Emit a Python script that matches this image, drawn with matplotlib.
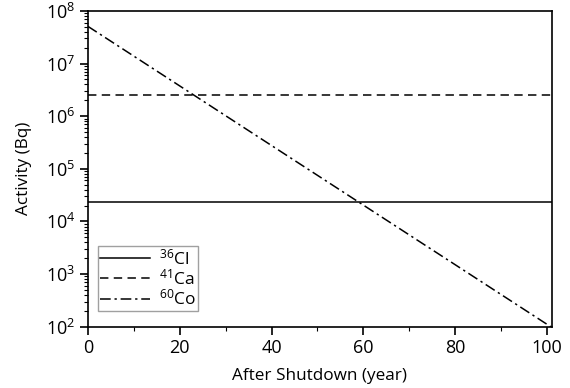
import matplotlib
matplotlib.use("Agg")
import matplotlib.pyplot as plt
from matplotlib.ticker import LogLocator, MultipleLocator, NullFormatter

# data
years = [0, 101]
cl36 = [2.37e4, 2.37e4]
ca41 = [2.5e6, 2.5e6]
co60 = [5.1e7, 0.97e2]

plt.rcParams.update(
    {
        "font.family": ["Open Sans", "DejaVu Sans"],
        "mathtext.fontset": "custom",
        "mathtext.rm": "Open Sans",
        "mathtext.it": "Open Sans:italic",
        "mathtext.bf": "Open Sans:bold",
    }
)

fig = plt.figure(figsize=(5.7, 3.88), dpi=100)
ax = fig.add_axes([0.154, 0.158, 0.814, 0.814])

ax.plot(years, cl36, color="black", lw=1.1, ls="-", label=r"$^{36}$Cl")
ax.plot(years, ca41, color="black", lw=1.1, ls=(0, (5.5, 3.5)), label=r"$^{41}$Ca")
ax.plot(years, co60, color="black", lw=1.1, ls=(0, (7, 2.5, 1.5, 2.5)), label=r"$^{60}$Co")

ax.set_yscale("log")
ax.set_xlim(0, 101)
ax.set_ylim(1e2, 1e8)
ax.xaxis.set_major_locator(MultipleLocator(20))
ax.xaxis.set_minor_locator(MultipleLocator(10))
ax.xaxis.set_minor_formatter(NullFormatter())
ax.yaxis.set_major_locator(LogLocator(base=10, numticks=10))
ax.yaxis.set_minor_locator(LogLocator(base=10, subs=range(2, 10), numticks=20))
ax.yaxis.set_minor_formatter(NullFormatter())

ax.tick_params(which="major", direction="out", length=6, width=1.2, labelsize=13, pad=3)
ax.tick_params(which="minor", direction="out", length=3, width=0.8)
for sp in ax.spines.values():
    sp.set_linewidth(1.2)

ax.set_xlabel("After Shutdown (year)", fontsize=12.3, labelpad=8)
ax.set_ylabel("Activity (Bq)", fontsize=12.3, labelpad=10)

leg = ax.legend(
    loc="lower left",
    bbox_to_anchor=(0.022, 0.05),
    fontsize=12.5,
    frameon=True,
    fancybox=False,
    edgecolor="#888888",
    handlelength=2.9,
    handletextpad=0.5,
    labelspacing=0.02,
    borderpad=0.12,
    borderaxespad=0.0,
)
leg.get_frame().set_linewidth(1.0)

fig.savefig("out.png", dpi=100)
